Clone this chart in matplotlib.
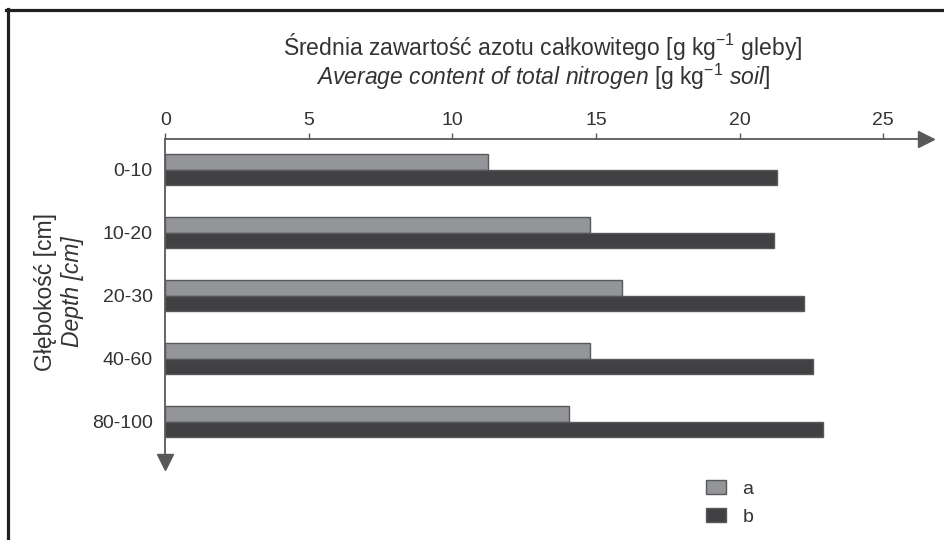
import numpy as np
import matplotlib
matplotlib.use('Agg')
import matplotlib.pyplot as plt
from matplotlib.lines import Line2D

plt.rcParams['font.family'] = ['Liberation Sans', 'DejaVu Sans']
plt.rcParams['mathtext.fontset'] = 'custom'
plt.rcParams['mathtext.rm'] = 'Liberation Sans'
plt.rcParams['mathtext.it'] = 'Liberation Sans:italic'

depths = ['0-10', '10-20', '20-30', '40-60', '80-100']
values_a = [11.25, 14.8, 15.9, 14.8, 14.05]
values_b = [21.3, 21.2, 22.25, 22.55, 22.9]
x_ticks = [0, 5, 10, 15, 20, 25]

text_c = '#333335'
axis_c = '#58595b'
col_a = '#939598'
col_b = '#414042'

fig = plt.figure(figsize=(9.44, 5.40), dpi=100)
W, H = 944, 540
ax = fig.add_axes([165.3 / W, 1 - 462 / H, (926 - 165.3) / W, (462 - 139.3) / H])

y = np.arange(len(depths))
h = 0.246
ax.barh(y - h / 2, values_a, height=h, color=col_a, edgecolor=axis_c, lw=1, label='a')
ax.barh(y + h / 2, values_b, height=h, color=col_b, edgecolor=axis_c, lw=1, label='b')

ax.set_xlim(0, 26.49)
ax.set_ylim(4.635, -0.487)
ax.set_yticks(y)
ax.set_yticklabels(depths)
ax.set_xticks(x_ticks)
ax.xaxis.tick_top()

for s in ['right', 'bottom']:
    ax.spines[s].set_visible(False)
for s in ['top', 'left']:
    ax.spines[s].set_color(axis_c)
    ax.spines[s].set_linewidth(1.3)

ax.tick_params(axis='x', direction='out', length=4.5, width=1, colors=axis_c,
               labelcolor=text_c, labelsize=14, pad=3)
ax.tick_params(axis='y', length=0, pad=9, labelsize=14, labelcolor=text_c)

# arrow heads at the ends of the axes
ax.plot(1, 1, marker='>', ms=11, color=axis_c, transform=ax.transAxes, clip_on=False)
ax.plot(0, 0, marker='v', ms=11, color=axis_c, transform=ax.transAxes, clip_on=False)

fig.text(543 / W, 1 - 55 / H,
         r'Średnia zawartość azotu całkowitego [g kg$^{-1}$ gleby]',
         ha='center', va='baseline', fontsize=16.5, color=text_c)
fig.text(543 / W, 1 - 85 / H,
         r'$\mathit{Average\ content\ of\ total\ nitrogen\ [}\mathrm{g\ kg}'
         r'^{-1}\ \mathit{soil]}$',
         ha='center', va='baseline', fontsize=16.5, color=text_c)

fig.text(46 / W, 1 - 292 / H, 'Głębokość [cm]', rotation=90, ha='center', va='center',
         fontsize=16.5, color=text_c)
fig.text(73 / W, 1 - 292 / H, 'Depth [cm]', rotation=90, ha='center', va='center',
         fontsize=16.5, style='italic', color=text_c)

leg = fig.legend(loc='upper left', bbox_to_anchor=(706 / W, 1 - 480 / H), frameon=False,
                 fontsize=14, handlelength=1.03, handleheight=0.77, handletextpad=0.85,
                 labelspacing=0.5, borderpad=0, borderaxespad=0)
for t in leg.get_texts():
    t.set_color(text_c)

# frame lines on the top and left edges
fig.add_artist(Line2D([6 / W, 1], [1 - 9.5 / H, 1 - 9.5 / H], color='#231f20', lw=2.3))
fig.add_artist(Line2D([7.5 / W, 7.5 / W], [0, 1 - 8.5 / H], color='#231f20', lw=2.3))

fig.savefig('out.png', dpi=100)
